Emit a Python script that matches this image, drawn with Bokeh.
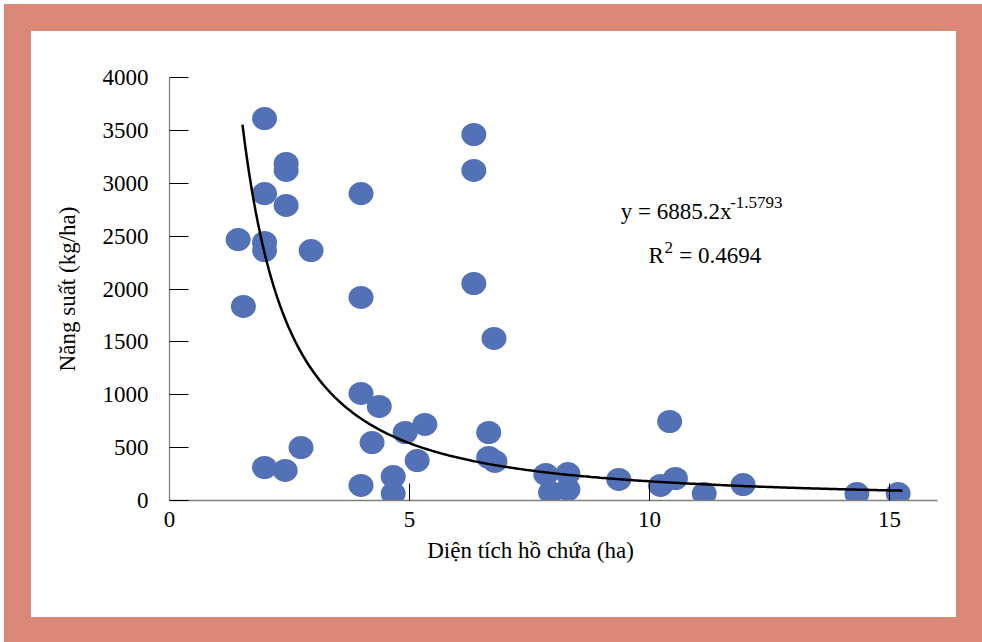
import numpy as np
from bokeh.plotting import figure
from bokeh.layouts import column
from bokeh.models import Range1d, FixedTicker, Label
from bokeh.embed import file_html
from bokeh.resources import INLINE

# Data
area_ha = [1.98, 2.43, 2.43, 1.98, 2.43, 1.43, 1.98, 1.98, 2.95, 1.54,
           3.99, 3.99, 6.34, 6.34, 6.34, 6.76, 3.99, 4.37, 1.98, 2.41,
           2.74, 4.22, 4.91, 5.32, 3.99, 4.66, 4.66, 5.16, 6.65, 6.65,
           6.78, 7.84, 8.30, 7.94, 8.30, 9.36, 10.23, 10.54, 10.42, 11.14,
           11.95, 14.32, 15.18]
yield_kg = [3612, 3187, 3121, 2903, 2790, 2468, 2440, 2364, 2364, 1835,
            2903, 1920, 3461, 3121, 2052, 1532, 1012, 889, 312, 284,
            501, 548, 643, 719, 142, 227, 66, 378, 643, 407,
            369, 246, 255, 76, 104, 199, 142, 208, 747, 66,
            151, 66, 66]

# Power trendline coefficients shown on the chart
coef_a = 6885.2
coef_b = -1.5793
trend_x_start = 1.52
trend_x_end = 15.27

x_ticks = [0, 5, 10, 15]
y_ticks = [0, 500, 1000, 1500, 2000, 2500, 3000, 3500, 4000]

FONT = "Liberation Serif"

p = figure(width=925, height=586, output_backend="svg", toolbar_location=None,
           x_range=Range1d(0, 16), y_range=Range1d(0, 4000),
           min_border_left=138, min_border_right=19, min_border_top=46, min_border_bottom=117)
p.outline_line_color = None
p.grid.visible = False
p.background_fill_color = "white"
p.border_fill_color = "white"

for ax in (p.xaxis[0], p.yaxis[0]):
    ax.axis_line_color = "#808080"
    ax.axis_line_width = 1.3
    ax.major_tick_line_color = "black"
    ax.major_tick_out = 0
    ax.minor_tick_line_color = None
    ax.major_label_text_font = FONT
    ax.major_label_text_font_size = "23px"
    ax.major_label_text_color = "black"
    ax.axis_label_text_font = FONT
    ax.axis_label_text_font_size = "23px"
    ax.axis_label_text_font_style = "normal"
    ax.axis_label_text_color = "black"

p.xaxis.ticker = FixedTicker(ticks=x_ticks)
p.yaxis.ticker = FixedTicker(ticks=y_ticks)
p.xaxis.major_tick_in = 17
p.yaxis.major_tick_in = 19
p.xaxis.major_label_standoff = 11
p.yaxis.major_label_standoff = 21
p.xaxis.axis_label = "Diện tích hồ chứa (ha)" + "\u00a0" * 8
p.yaxis.axis_label = "Năng suất (kg/ha)"
p.xaxis.axis_label_standoff = 8
p.yaxis.axis_label_standoff = 20

p.ellipse(x=area_ha, y=yield_kg, width=25, height=23,
          width_units="screen", height_units="screen",
          fill_color="#5271B6", line_color=None)

tx = np.linspace(trend_x_start, trend_x_end, 300)
ty = coef_a * tx ** coef_b
p.line(tx, ty, line_color="black", line_width=2.5)

def lab(x, y, text, size):
    p.add_layout(Label(x=x, y=y, text=text, text_font=FONT, text_font_size=size,
                       text_align="left", text_baseline="alphabetic", text_color="black"))

lab(9.40, 2733, "y = 6885.2x", "23px")
lab(11.68, 2818, "-1.5793", "17px")
lab(9.98, 2317, "R", "23px")
lab(10.31, 2395, "2", "17px")
lab(10.62, 2317, "= 0.4694", "23px")

layout = column(p, width=978, height=638,
                styles={"border-style": "solid", "border-color": "#DC8878",
                        "border-width": "27px 26px 25px 27px",
                        "margin-left": "4px", "margin-top": "4px",
                        "background-color": "white"})

open("out.html", "w").write(file_html(layout, INLINE))
